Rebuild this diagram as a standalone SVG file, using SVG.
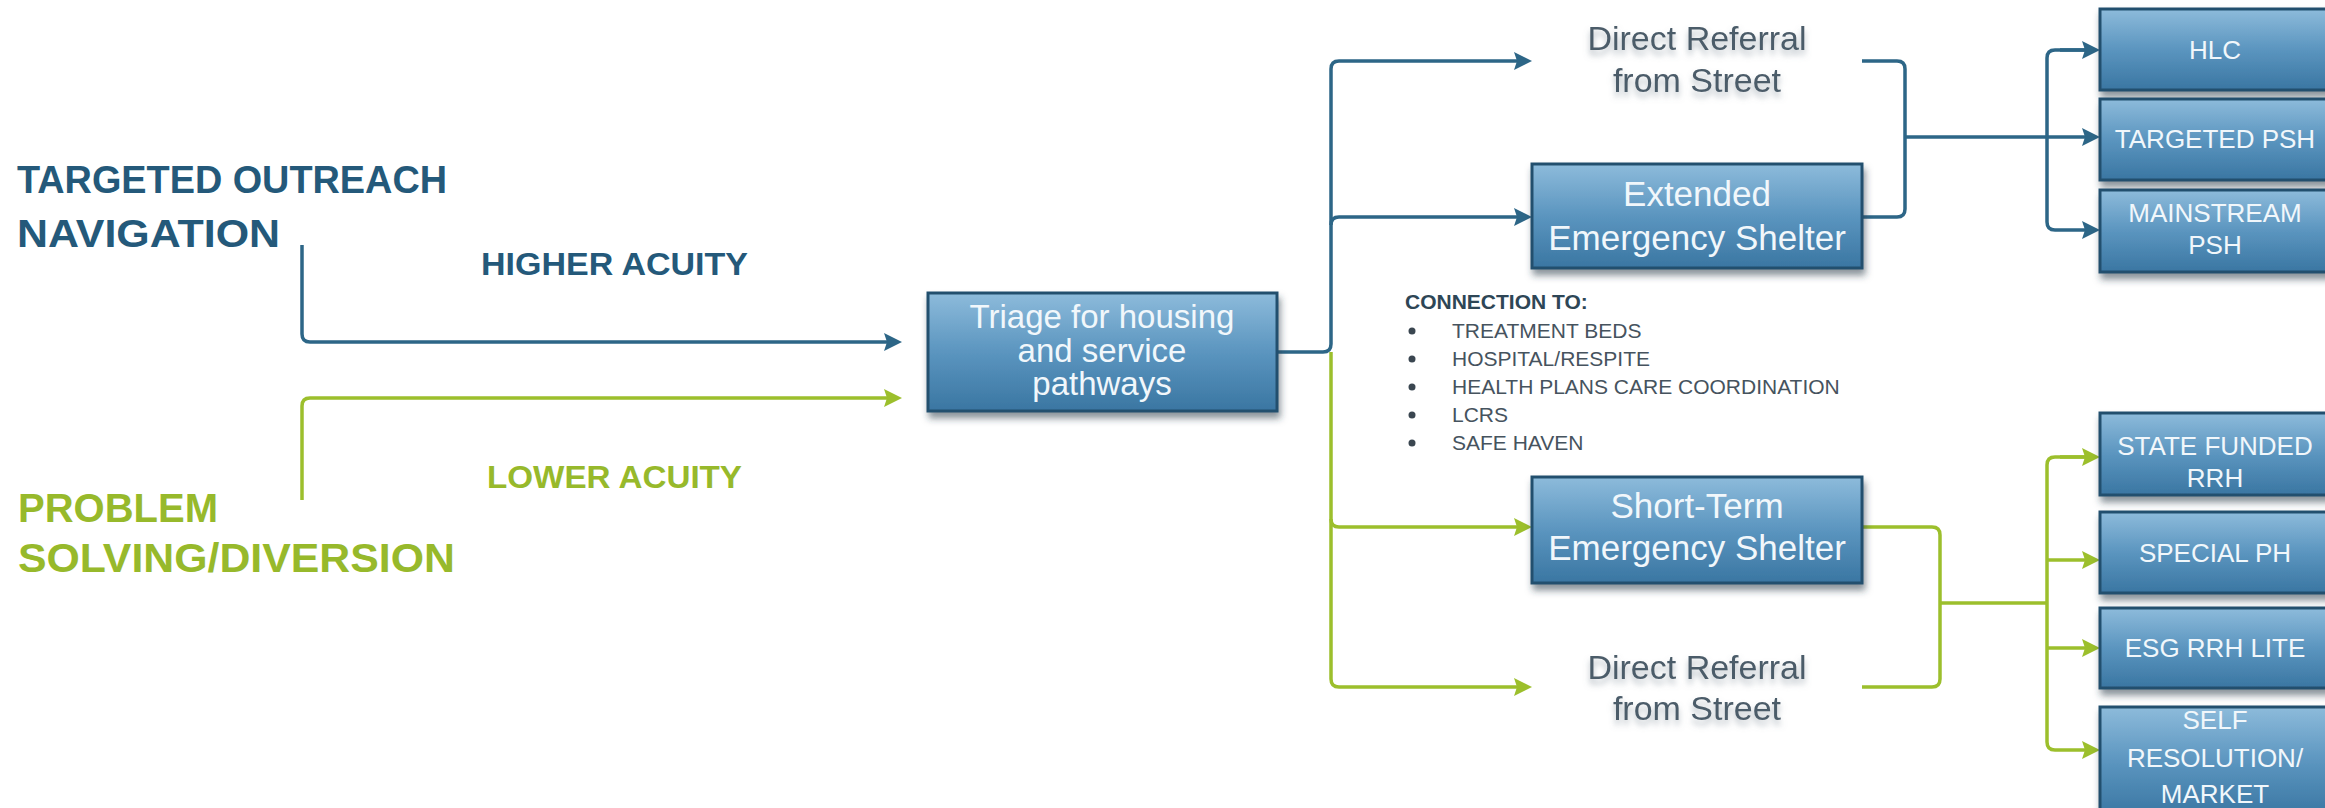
<svg xmlns="http://www.w3.org/2000/svg" width="2325" height="808" viewBox="0 0 2325 808">
<defs>
<linearGradient id="bx" x1="0" y1="0" x2="0" y2="1">
<stop offset="0" stop-color="#8dbbdb"/>
<stop offset="0.5" stop-color="#5b95bf"/>
<stop offset="1" stop-color="#3a76a2"/>
</linearGradient>
<filter id="sh" x="-10%" y="-10%" width="125%" height="135%">
<feDropShadow dx="2" dy="6" stdDeviation="3.5" flood-color="#2a3a48" flood-opacity="0.55"/>
</filter>
<filter id="ts" x="-10%" y="-30%" width="120%" height="170%">
<feDropShadow dx="0" dy="5" stdDeviation="3" flood-color="#6f7f8c" flood-opacity="0.55"/>
</filter>
<marker id="ab" markerWidth="20" markerHeight="18" refX="6" refY="9" orient="auto" markerUnits="userSpaceOnUse">
<path d="M0,0 L18,9 L0,18 L3,9 Z" fill="#2d6687"/>
</marker>
<marker id="ag" markerWidth="20" markerHeight="18" refX="6" refY="9" orient="auto" markerUnits="userSpaceOnUse">
<path d="M0,0 L18,9 L0,18 L3,9 Z" fill="#9cbf2c"/>
</marker>
</defs>
<style>
.box{fill:url(#bx);stroke:#24506e;stroke-width:3;filter:url(#sh)}
.bt{font-family:"Liberation Sans",Arial,sans-serif;fill:#f1f7fb;text-anchor:middle}
.rt{font-size:26px}
.mt{font-size:35px}
.dr{font-family:"Liberation Sans",Arial,sans-serif;font-size:34px;fill:#4c5c69;text-anchor:middle;filter:url(#ts)}
.bl{fill:none;stroke:#2d6687;stroke-width:3.5}
.gr{fill:none;stroke:#9cbf2c;stroke-width:3.5}
.hd{font-family:"Liberation Sans",Arial,sans-serif;font-weight:bold}
.li{font-family:"Liberation Sans",Arial,sans-serif;font-size:21px;fill:#46535e}
</style>
<rect width="2325" height="808" fill="#ffffff"/>

<g id="connectors">
<path class="bl" d="M302 245 V334 Q302 342 310 342 H890" marker-end="url(#ab)"/>
<path class="gr" d="M302 500 V406 Q302 398 310 398 H890" marker-end="url(#ag)"/>
<path class="bl" d="M1277 352 H1323 Q1331 352 1331 344 V69 Q1331 61 1339 61 H1520" marker-end="url(#ab)"/>
<path class="bl" d="M1331 225 Q1331 217 1339 217 H1520" marker-end="url(#ab)"/>
<path class="gr" d="M1331 352 V679 Q1331 687 1339 687 H1520" marker-end="url(#ag)"/>
<path class="gr" d="M1331 519 Q1331 527 1339 527 H1520" marker-end="url(#ag)"/>
<path class="bl" d="M1862 61 H1897 Q1905 61 1905 69 V209 Q1905 217 1897 217 H1862"/>
<path class="bl" d="M1905 137 H2047"/>
<path class="bl" d="M2088 50 H2055 Q2047 50 2047 58 V222 Q2047 230 2055 230 H2088" marker-end="url(#ab)"/>
<path class="bl" d="M2047 137 H2088" marker-end="url(#ab)"/>
<path class="bl" d="M2060 50 H2088" marker-end="url(#ab)"/>
<path class="gr" d="M1862 527 H1932 Q1940 527 1940 535 V679 Q1940 687 1932 687 H1862"/>
<path class="gr" d="M1940 603 H2047"/>
<path class="gr" d="M2088 457 H2055 Q2047 457 2047 465 V742 Q2047 750 2055 750 H2088" marker-end="url(#ag)"/>
<path class="gr" d="M2060 457 H2088" marker-end="url(#ag)"/>
<path class="gr" d="M2047 560 H2088" marker-end="url(#ag)"/>
<path class="gr" d="M2047 648 H2088" marker-end="url(#ag)"/>
</g>

<g id="targeted-outreach">
<text class="hd" x="17" y="193" font-size="39" fill="#24597a" textLength="430" lengthAdjust="spacingAndGlyphs">TARGETED OUTREACH</text>
<text class="hd" x="17" y="247" font-size="39" fill="#24597a" textLength="263" lengthAdjust="spacingAndGlyphs">NAVIGATION</text>
</g>
<g id="problem-solving">
<text class="hd" x="18" y="522" font-size="41" fill="#97b92b" textLength="200" lengthAdjust="spacingAndGlyphs">PROBLEM</text>
<text class="hd" x="18" y="572" font-size="41" fill="#97b92b" textLength="437" lengthAdjust="spacingAndGlyphs">SOLVING/DIVERSION</text>
</g>
<g id="higher-acuity">
<text class="hd" x="481" y="275" font-size="31" fill="#24597a" textLength="267" lengthAdjust="spacingAndGlyphs">HIGHER ACUITY</text>
</g>
<g id="lower-acuity">
<text class="hd" x="487" y="488" font-size="32" fill="#97b92b" textLength="255" lengthAdjust="spacingAndGlyphs">LOWER ACUITY</text>
</g>

<g id="triage">
<rect class="box" x="928" y="293" width="349" height="118"/>
<text class="bt" font-size="33" x="1102" y="328">Triage for housing</text>
<text class="bt" font-size="33" x="1102" y="362">and service</text>
<text class="bt" font-size="33" x="1102" y="395">pathways</text>
</g>

<g id="direct-referral-top">
<text class="dr" x="1697" y="50">Direct Referral</text>
<text class="dr" x="1697" y="92">from Street</text>
</g>
<g id="extended-shelter">
<rect class="box" x="1532" y="164" width="330" height="104"/>
<text class="bt mt" x="1697" y="206">Extended</text>
<text class="bt mt" x="1697" y="250">Emergency Shelter</text>
</g>

<g id="connection-list">
<text class="hd" x="1405" y="309" font-size="21" fill="#2e4656">CONNECTION TO:</text>
<g fill="#3a4650">
<circle cx="1412" cy="331" r="3.5"/>
<circle cx="1412" cy="359" r="3.5"/>
<circle cx="1412" cy="387" r="3.5"/>
<circle cx="1412" cy="415" r="3.5"/>
<circle cx="1412" cy="443" r="3.5"/>
</g>
<text class="li" x="1452" y="338">TREATMENT BEDS</text>
<text class="li" x="1452" y="366">HOSPITAL/RESPITE</text>
<text class="li" x="1452" y="394">HEALTH PLANS CARE COORDINATION</text>
<text class="li" x="1452" y="422">LCRS</text>
<text class="li" x="1452" y="450">SAFE HAVEN</text>
</g>

<g id="short-term-shelter">
<rect class="box" x="1532" y="477" width="330" height="106"/>
<text class="bt mt" x="1697" y="518">Short-Term</text>
<text class="bt mt" x="1697" y="560">Emergency Shelter</text>
</g>
<g id="direct-referral-bottom">
<text class="dr" x="1697" y="679">Direct Referral</text>
<text class="dr" x="1697" y="720">from Street</text>
</g>

<g id="hlc">
<rect class="box" x="2100" y="9" width="232" height="81"/>
<text class="bt rt" x="2215" y="59">HLC</text>
</g>
<g id="targeted-psh">
<rect class="box" x="2100" y="99" width="232" height="81"/>
<text class="bt rt" x="2215" y="148">TARGETED PSH</text>
</g>
<g id="mainstream-psh">
<rect class="box" x="2100" y="190" width="232" height="82"/>
<text class="bt rt" x="2215" y="222">MAINSTREAM</text>
<text class="bt rt" x="2215" y="254">PSH</text>
</g>
<g id="state-funded-rrh">
<rect class="box" x="2100" y="413" width="232" height="82"/>
<text class="bt rt" x="2215" y="455">STATE FUNDED</text>
<text class="bt rt" x="2215" y="487">RRH</text>
</g>
<g id="special-ph">
<rect class="box" x="2100" y="512" width="232" height="81"/>
<text class="bt rt" x="2215" y="562">SPECIAL PH</text>
</g>
<g id="esg-rrh-lite">
<rect class="box" x="2100" y="608" width="232" height="80"/>
<text class="bt rt" x="2215" y="657">ESG RRH LITE</text>
</g>
<g id="self-resolution">
<rect class="box" x="2100" y="707" width="232" height="110"/>
<text class="bt rt" x="2215" y="729">SELF</text>
<text class="bt rt" x="2215" y="767">RESOLUTION/</text>
<text class="bt rt" x="2215" y="803">MARKET</text>
</g>
</svg>
